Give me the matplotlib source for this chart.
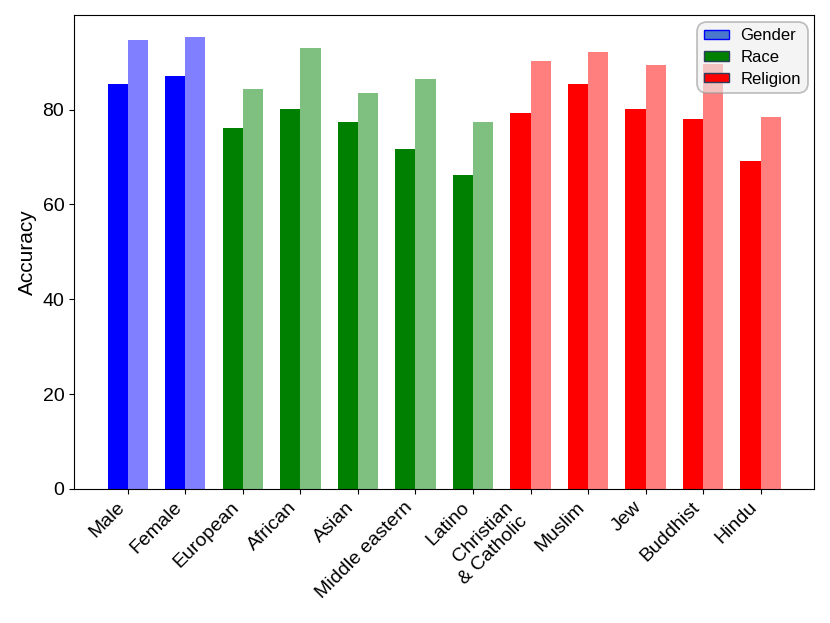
import numpy as np
import matplotlib
matplotlib.use("Agg")
import matplotlib.pyplot as plt
from matplotlib.patches import Patch

plt.rcParams['font.family'] = ['Liberation Sans', 'DejaVu Sans']

# Data
categories = ["Male", "Female", "European", "African", "Asian", "Middle eastern",
              "Latino", "Christian\n& Catholic", "Muslim", "Jew", "Buddhist", "Hindu"]
groups = ["Gender", "Gender", "Race", "Race", "Race", "Race",
          "Race", "Religion", "Religion", "Religion", "Religion", "Religion"]
acc_dark = [85.3, 87.0, 76.1, 80.1, 77.4, 71.6, 66.1, 79.2, 85.3, 80.1, 78.1, 69.2]
acc_light = [94.6, 95.2, 84.3, 92.9, 83.4, 86.4, 77.3, 90.2, 92.1, 89.3, 89.7, 78.4]

group_colors = {"Gender": "blue", "Race": "green", "Religion": "red"}
colors = [group_colors[g] for g in groups]

x = np.arange(len(categories))
w = 0.35

fig = plt.figure(figsize=(8.3, 6.23), dpi=100)
ax = fig.add_axes([0.0892, 0.2151, 0.892, 0.761])

ax.bar(x - w / 2, acc_dark, w, color=colors)
ax.bar(x + w / 2, acc_light, w, color=colors, alpha=0.5)

ax.set_ylabel("Accuracy", fontsize=15)
ax.set_xticks(x)
ax.set_xticklabels(categories, rotation=45, ha="right", fontsize=14)
ax.tick_params(axis="y", labelsize=14)

handles = [
    Patch(facecolor="#4a78cc", edgecolor="blue", label="Gender"),
    Patch(facecolor="green", edgecolor="#2b3f5f", label="Race"),
    Patch(facecolor="red", edgecolor="#2b3f5f", label="Religion"),
]
leg = ax.legend(handles=handles, loc="upper right", fontsize=12,
                handlelength=1.5, handleheight=0.5, handletextpad=0.7,
                labelspacing=0.4, borderaxespad=0.4, framealpha=0.6,
                facecolor="#eeeeee", edgecolor="#999999")
leg.get_frame().set_linewidth(1.3)
leg.get_frame().set_boxstyle("round,pad=0,rounding_size=0.6")

fig.savefig("out.png", dpi=100)
